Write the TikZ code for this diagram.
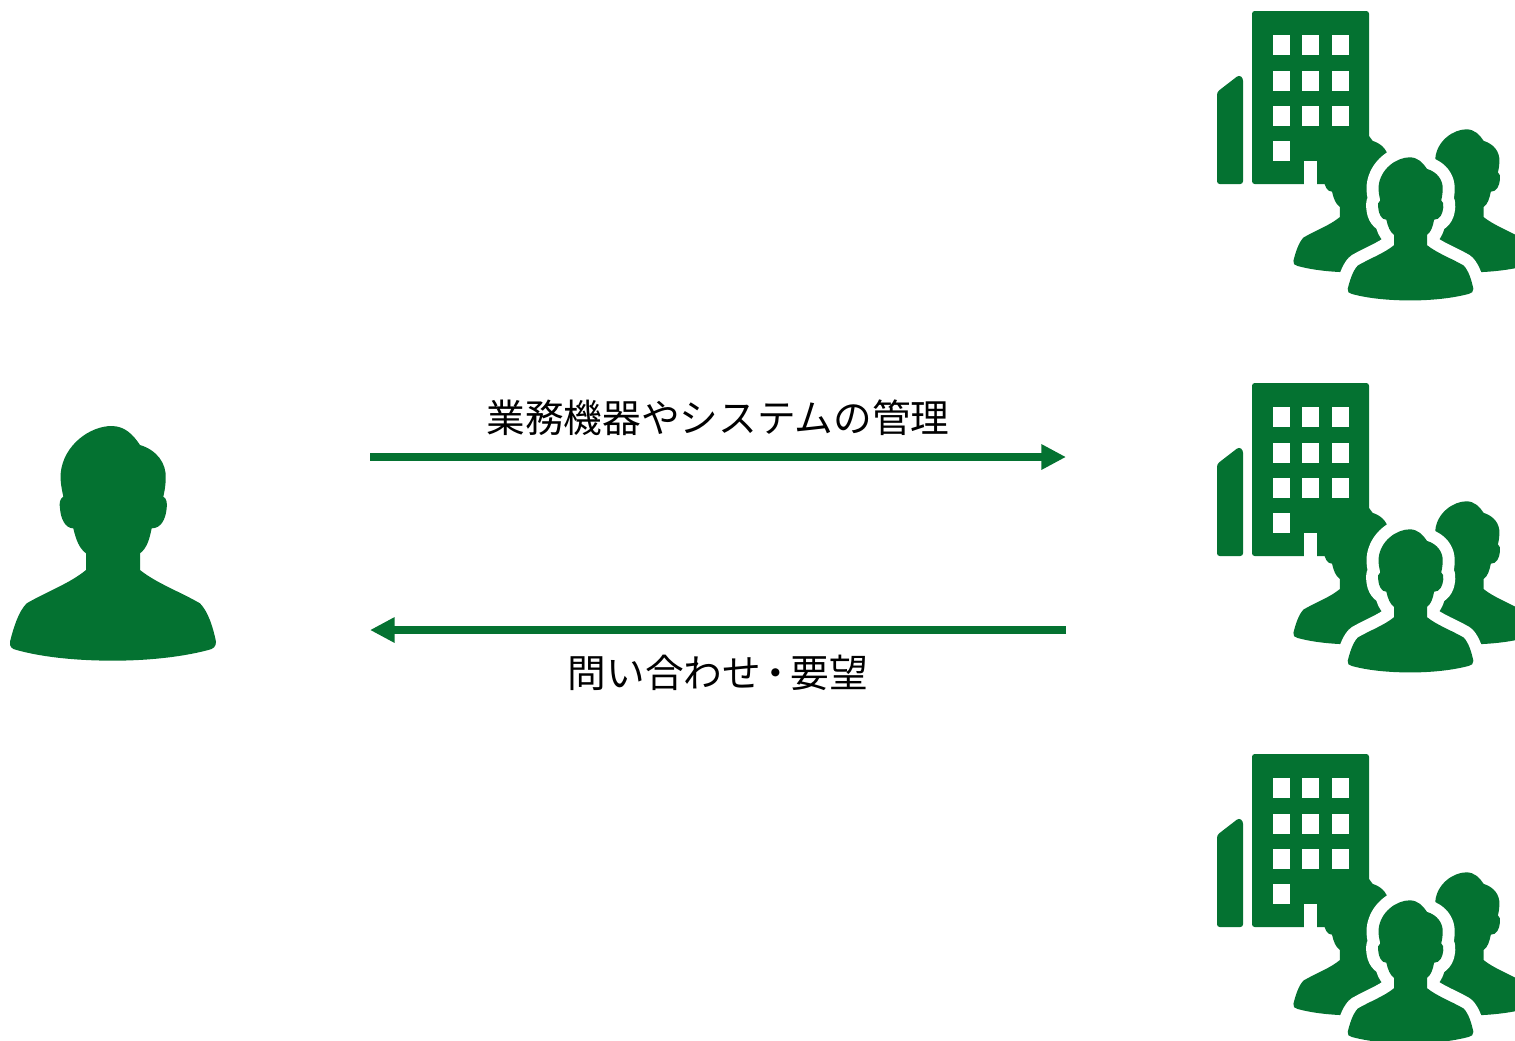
\documentclass[tikz,border=0pt]{standalone}
\usepackage{fontspec}
\setmainfont{Noto Sans CJK JP}
\usepackage{tikz}
\usetikzlibrary{arrows.meta,positioning}
\definecolor{icongreen}{HTML}{047231}
\newcommand{\personpath}{(335,33) .. controls (375,33) and (400,60) .. (420,90)
  .. controls (470,105) and (500,145) .. (497,190)
  .. controls (497,215) and (493,230) .. (490,245)
  .. controls (500,250) and (502,265) .. (500,280)
  .. controls (497,310) and (485,340) .. (455,340)
  .. controls (448,375) and (440,400) .. (420,415)
  -- (420,465)
  .. controls (470,505) and (540,530) .. (600,565)
  .. controls (625,590) and (640,640) .. (648,680)
  .. controls (648,695) and (640,702) .. (625,705)
  .. controls (530,730) and (420,737) .. (340,737)
  .. controls (250,737) and (140,730) .. (50,705)
  .. controls (35,702) and (28,695) .. (30,680)
  .. controls (40,640) and (55,590) .. (80,565)
  .. controls (140,530) and (210,505) .. (258,465)
  -- (258,415)
  .. controls (238,400) and (228,375) .. (220,340)
  .. controls (195,340) and (182,310) .. (180,280)
  .. controls (177,265) and (180,250) .. (190,245)
  .. controls (185,220) and (180,200) .. (182,175)
  .. controls (190,90) and (270,33) .. (335,33) -- cycle}
\tikzset{
  flow/.style={-{Triangle[length=18.5pt,width=18pt]},line width=6pt,draw=icongreen},
  flowlabel/.style={inner sep=0pt,font=\fontsize{29}{30}\selectfont},
  person/.pic={
    \fill[icongreen] \personpath;
  },
  haloperson/.pic={
    \draw[white,line width=18pt,line join=round] \personpath;
    \fill[icongreen] \personpath;
  },
  clientgroup/.pic={
    % side wing and main block
    \fill[icongreen,rounded corners=2pt] (17,92) -- (39,75) -- (43,78) -- (43,184) -- (17,184) -- cycle;
    \fill[icongreen,rounded corners=2pt] (52,11) -- (169,11) -- (169,184) -- (52,184) -- cycle;
    \foreach \wx in {73,102,132}
      \foreach \wy in {35,71,106}
        \fill[white] (\wx,\wy) rectangle ++(17,20);
    \fill[white] (73,141) rectangle ++(17,20);
    \fill[white] (104,161) rectangle (117,185);
    \pic[scale=0.2033] at (87.3,122.6) {person};
    \pic[scale=0.2033] at (198.3,122.6) {person};
    \pic[scale=0.2033] at (141.6,150.6) {haloperson};
  }
}
\begin{document}
\begin{tikzpicture}[x=0.75pt,y=-0.75pt]
      \clip[use as bounding box] (0,0) rectangle (1515,1040);

      \coordinate (ml) at (370,457);
      \coordinate (mr) at (1066,457);
      \coordinate (ql) at (370,630);
      \coordinate (qr) at (1066,630);

      \pic[scale=1/3] (user) at (0,415) {person};
      \pic (clienta) at (1200,0) {clientgroup};
      \pic (clientb) at (1200,372) {clientgroup};
      \pic (clientc) at (1200,743) {clientgroup};

      \draw[flow] (ml) --node[flowlabel,above=13pt] (manage) {業務機器やシステムの管理} (mr);
      \draw[flow] (qr) --node[flowlabel,below=16pt] (inquiry) {問い合わせ\hspace{-0.12em}・\hspace{-0.12em}要望} (ql);
    \end{tikzpicture}
\end{document}
